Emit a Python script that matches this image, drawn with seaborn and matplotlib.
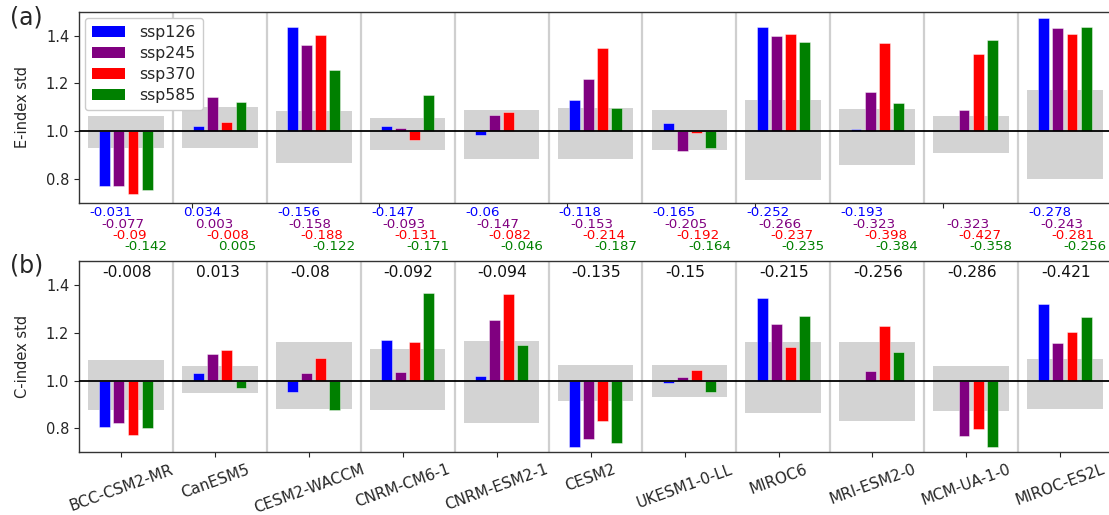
import numpy as np
import pandas as pd
import matplotlib
matplotlib.use("Agg")
import matplotlib.pyplot as plt
from matplotlib.patches import Patch
import seaborn as sns

models = ["BCC-CSM2-MR", "CanESM5", "CESM2-WACCM", "CNRM-CM6-1", "CNRM-ESM2-1",
          "CESM2", "UKESM1-0-LL", "MIROC6", "MRI-ESM2-0", "MCM-UA-1-0", "MIROC-ES2L"]
scenarios = ["ssp126", "ssp245", "ssp370", "ssp585"]
colors = ["#0000ff", "#800080", "#ff0000", "#008000"]

# (a) E-index std
e_ssp126 = [0.772, 1.024, 1.437, 1.020, 0.985, 1.132, 1.035, 1.436, 1.010, np.nan, 1.472]
e_ssp245 = [0.772, 1.143, 1.362, 1.015, 1.067, 1.217, 0.917, 1.397, 1.164, 1.088, 1.431]
e_ssp370 = [0.736, 1.040, 1.403, 0.965, 1.081, 1.349, 0.992, 1.406, 1.371, 1.325, 1.406]
e_ssp585 = [0.756, 1.124, 1.257, 1.152, np.nan, 1.096, 0.928, 1.372, 1.120, 1.382, 1.435]
e_range_hi = [1.065, 1.103, 1.086, 1.056, 1.090, 1.098, 1.090, 1.132, 1.095, 1.064, 1.172]
e_range_lo = [0.929, 0.928, 0.867, 0.922, 0.886, 0.885, 0.922, 0.798, 0.858, 0.911, 0.800]

# (b) C-index std
c_ssp126 = [0.805, 1.032, 0.953, 1.171, 1.019, 0.724, 0.989, 1.346, np.nan, np.nan, 1.321]
c_ssp245 = [0.824, 1.111, 1.032, 1.036, 1.254, 0.757, 1.015, 1.236, 1.040, 0.767, 1.158]
c_ssp370 = [0.771, 1.126, 1.095, 1.161, 1.362, 0.829, 1.046, 1.142, 1.230, 0.799, 1.204]
c_ssp585 = [0.801, 0.968, 0.878, 1.365, 1.150, 0.739, 0.953, 1.271, 1.120, 0.722, 1.265]
c_range_hi = [1.086, 1.062, 1.162, 1.132, 1.167, 1.065, 1.067, 1.160, 1.161, 1.060, 1.092]
c_range_lo = [0.878, 0.949, 0.883, 0.878, 0.822, 0.914, 0.931, 0.864, 0.830, 0.874, 0.882]

# annotations
e_corr_126 = ["-0.031", "0.034", "-0.156", "-0.147", "-0.06", "-0.118", "-0.165", "-0.252", "-0.193", "", "-0.278"]
e_corr_245 = ["-0.077", "0.003", "-0.158", "-0.093", "-0.147", "-0.153", "-0.205", "-0.266", "-0.323", "-0.323", "-0.243"]
e_corr_370 = ["-0.09", "-0.008", "-0.188", "-0.131", "-0.082", "-0.214", "-0.192", "-0.237", "-0.398", "-0.427", "-0.281"]
e_corr_585 = ["-0.142", "0.005", "-0.122", "-0.171", "-0.046", "-0.187", "-0.164", "-0.235", "-0.384", "-0.358", "-0.256"]
c_corr = ["-0.008", "0.013", "-0.08", "-0.092", "-0.094", "-0.135", "-0.15", "-0.215", "-0.256", "-0.286", "-0.421"]


def long_df(series):
    rows = []
    for sc, vals in zip(scenarios, series):
        for m, v in zip(models, vals):
            if not np.isnan(v):
                rows.append({"model": m, "scenario": sc, "dev": v - 1.0})
    return pd.DataFrame(rows)


sns.set_style("white")
plt.rcParams["font.family"] = ["DejaVu Sans"]

W, H = 1109, 515
fig = plt.figure(figsize=(W / 100, H / 100), dpi=100)
axw = 11 * 93.9 / W
ax1 = fig.add_axes([79 / W, (H - 203) / H, axw, 191.3 / H])
ax2 = fig.add_axes([79 / W, (H - 452.3) / H, axw, 191.3 / H])

n = len(models)
xs = np.arange(n)

for ax, series, hi, lo, ylabel in [
    (ax1, [e_ssp126, e_ssp245, e_ssp370, e_ssp585], e_range_hi, e_range_lo, "E-index std"),
    (ax2, [c_ssp126, c_ssp245, c_ssp370, c_ssp585], c_range_hi, c_range_lo, "C-index std"),
]:
    hi_a = np.array(hi)
    lo_a = np.array(lo)
    ax.bar(xs, hi_a - lo_a, bottom=lo_a, width=0.805, color="#d3d3d3", linewidth=0, zorder=0)
    for k in range(n - 1):
        ax.axvline(k + 0.5, color="#cfcfcf", lw=1.6, zorder=0.5)
    df = long_df(series)
    sns.barplot(data=df, x="model", y="dev", hue="scenario", order=models,
                hue_order=scenarios, palette=colors, saturation=1, width=0.6, gap=0.23,
                errorbar=None, bottom=1.0, linewidth=0.6, edgecolor="#ffffff80",
                ax=ax, legend=False, zorder=2)
    ax.axhline(1.0, color="black", lw=1.3, zorder=3)
    ax.set_xlim(-0.5, 10.5)
    ax.set_ylim(0.7, 1.5)
    ax.set_yticks([0.8, 1.0, 1.2, 1.4])
    ax.set_yticklabels(["0.8", "1.0", "1.2", "1.4"], fontsize=10.5)
    ax.set_ylabel(ylabel, fontsize=10.5)
    ax.yaxis.set_label_coords(-0.047, 0.5)
    ax.set_xlabel("")
    ax.tick_params(axis="both", direction="out", length=3.5, width=0.8, left=True, bottom=True)
    for s in ax.spines.values():
        s.set_color("#333333")
        s.set_linewidth(1.0)

handles = [Patch(facecolor=c, edgecolor="none") for c in colors]
ax1.legend(handles, scenarios, loc="upper left", fontsize=11.3, handlelength=2.1,
           handleheight=0.65, handletextpad=0.9, labelspacing=0.38,
           borderpad=0.45, borderaxespad=0.4, frameon=True, framealpha=1.0,
           edgecolor="#cccccc")

ax1.set_xticks([0.7, 2.7, 4.7, 6.7, 8.7])
ax1.set_xticklabels([])

ax2.set_xticks(xs - 0.05)
ax2.set_xticklabels(models, rotation=20, ha="center", fontsize=11)

# annotations
offs = [-0.39, -0.265, -0.14, -0.015]
ys = [0.66, 0.612, 0.565, 0.517]
for lst, off, yv, col in zip([e_corr_126, e_corr_245, e_corr_370, e_corr_585], offs, ys, colors):
    for i, t in enumerate(lst):
        if t:
            ax1.text(i + off, yv, t, color=col, fontsize=9.6, ha="left", va="center", clip_on=False)
for i, t in enumerate(c_corr):
    ax2.text(i - 0.255, 1.451, t, color="#111111", fontsize=11.2, ha="left", va="center")

fig.text(10 / W, 1 - 17.5 / H, "(a)", fontsize=17, ha="left", va="center")
fig.text(10 / W, 1 - 266 / H, "(b)", fontsize=17, ha="left", va="center")

fig.savefig("out.png", dpi=100)
